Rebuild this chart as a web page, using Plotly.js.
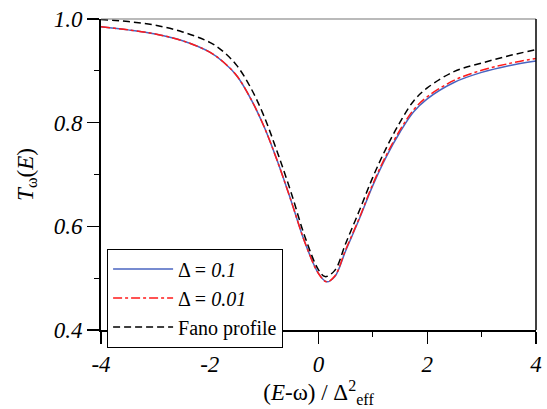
<!DOCTYPE html>
<html>
<head>
<meta charset="utf-8">
<script src="https://cdn.plot.ly/plotly-3.0.1.min.js"></script>
<style>html,body{margin:0;padding:0;background:#fff;} #chart{width:547px;height:409px;}</style>
</head>
<body>
<div id="chart"></div>
<script>
// Energy axis (E-ω)/Δeff²
var xBlue = [-4, -3.5, -3, -2.5, -2, -1.75, -1.5, -1.25, -1.0, -0.75, -0.5, -0.25, 0, 0.15, 0.3, 0.5, 0.75, 1.0, 1.25, 1.5, 1.75, 2, 2.5, 3, 3.5, 4];
var yBlue = [0.985, 0.979, 0.971, 0.958, 0.936, 0.917, 0.890, 0.847, 0.792, 0.724, 0.648, 0.569, 0.509, 0.493, 0.503, 0.553, 0.614, 0.679, 0.735, 0.782, 0.821, 0.846, 0.878, 0.897, 0.910, 0.919];
var xRed  = [-4, -3.5, -3, -2.5, -2, -1.75, -1.5, -1.25, -1.0, -0.75, -0.5, -0.25, 0, 0.15, 0.3, 0.5, 0.75, 1.0, 1.25, 1.5, 1.75, 2, 2.5, 3, 3.5, 4];
var yRed  = [0.985, 0.979, 0.971, 0.958, 0.936, 0.917, 0.890, 0.847, 0.792, 0.724, 0.648, 0.569, 0.509, 0.493, 0.504, 0.555, 0.616, 0.682, 0.738, 0.786, 0.825, 0.850, 0.882, 0.901, 0.914, 0.924];
var xFano = [-4, -3.5, -3, -2.5, -2, -1.75, -1.5, -1.25, -1.0, -0.75, -0.5, -0.25, 0, 0.12, 0.3, 0.5, 0.75, 1.0, 1.25, 1.5, 1.75, 2, 2.5, 3, 3.5, 4];
var yFano = [0.999, 0.995, 0.988, 0.975, 0.955, 0.937, 0.910, 0.868, 0.812, 0.741, 0.664, 0.580, 0.516, 0.503, 0.515, 0.567, 0.630, 0.695, 0.752, 0.801, 0.842, 0.867, 0.899, 0.915, 0.929, 0.941];

var seriesNames = ['Δ = <i>0.1</i>', 'Δ = <i>0.01</i>', 'Fano profile'];
var xTickVals = [-4, -2, 0, 2, 4];
var xTickLabels = ['-4', '-2', '0', '2', '4'];
var yTickVals = [0.4, 0.6, 0.8, 1.0];
var yTickLabels = ['0.4', '0.6', '0.8', '1.0'];

var serif = 'Liberation Serif';
function ital(a) { return a.map(function (s) { return '<i>' + s + '</i>'; }); }

var traces = [
  {x: xBlue, y: yBlue, name: seriesNames[0], mode: 'lines',
   line: {color: '#4a64c0', width: 1.5, shape: 'spline', smoothing: 1}},
  {x: xRed, y: yRed, name: seriesNames[1], mode: 'lines',
   line: {color: '#ff1a1a', width: 1.5, dash: 'dashdot', shape: 'spline', smoothing: 1}},
  {x: xFano, y: yFano, name: seriesNames[2], mode: 'lines',
   line: {color: '#000000', width: 1.5, dash: '7px,4px', shape: 'spline', smoothing: 1}}
];

var layout = {
  width: 547, height: 409,
  margin: {l: 101, r: 11, t: 19, b: 79},
  paper_bgcolor: '#fff', plot_bgcolor: '#fff',
  font: {family: serif, color: '#000'},
  showlegend: true,
  legend: {x: 0.014, y: 0.262, xanchor: 'left', yanchor: 'top',
           bordercolor: '#000', borderwidth: 1, bgcolor: '#fff',
           font: {family: serif, size: 20, color: '#000'},
           tracegroupgap: 0, itemwidth: 60},
  xaxis: {
    range: [-4, 4], showgrid: false, zeroline: false,
    showline: true, linecolor: '#000', linewidth: 2,
    ticks: 'outside', ticklen: 12, tickwidth: 1.2, tickcolor: '#000',
    tickmode: 'array', tickvals: xTickVals, ticktext: ital(xTickLabels),
    tickfont: {family: serif, size: 23, color: '#000'},
    minor: {dtick: 1, ticks: 'outside', ticklen: 5, tickwidth: 1.2, tickcolor: '#000', showgrid: false},
    title: {text: '(<i>E</i>-ω) / Δ<sup>2</sup><sub>eff</sub>', font: {family: serif, size: 23, color: '#000'}, standoff: 8}
  },
  yaxis: {
    range: [0.4, 1.0], showgrid: false, zeroline: false,
    showline: true, linecolor: '#000', linewidth: 2,
    ticks: 'outside', ticklen: 12, tickwidth: 1.2, tickcolor: '#000',
    tickmode: 'array', tickvals: yTickVals, ticktext: ital(yTickLabels),
    tickfont: {family: serif, size: 23, color: '#000'},
    minor: {dtick: 0.1, ticks: 'outside', ticklen: 5, tickwidth: 1.2, tickcolor: '#000', showgrid: false},
    title: {text: '<i>T</i><sub>ω</sub>(<i>E</i>)', font: {family: serif, size: 23, color: '#000'}, standoff: 14}
  },
  shapes: [
    {type: 'line', xref: 'paper', yref: 'paper', x0: 0, x1: 1, y0: 1, y1: 1, line: {color: '#777', width: 1.2}},
    {type: 'line', xref: 'paper', yref: 'paper', x0: 1, x1: 1, y0: 0, y1: 1, line: {color: '#000', width: 1.5}}
  ]
};

Plotly.newPlot('chart', traces, layout, {displayModeBar: false, staticPlot: true});
</script>
</body>
</html>
